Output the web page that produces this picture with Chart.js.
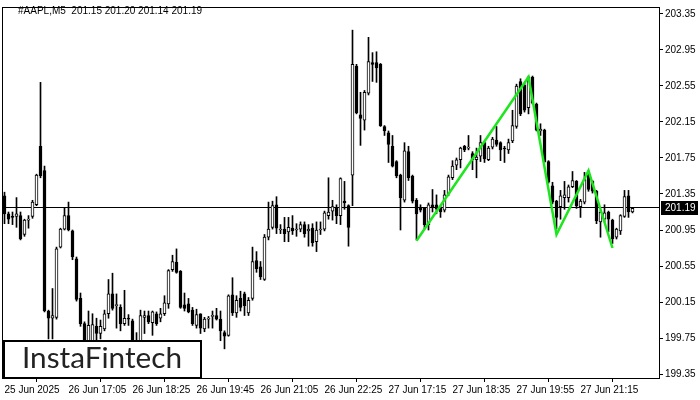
<!DOCTYPE html>
<html>
<head>
<meta charset="utf-8">
<script src="https://cdn.jsdelivr.net/npm/chart.js@4.4.1/dist/chart.umd.min.js"></script>
<style>
  body { margin: 0; background: #fff; }
  canvas { display: block; }
</style>
</head>
<body>
<canvas id="chart" width="700" height="400"></canvas>
<script>
// AAPL M5 candles (one value per bar)
const opens = [
  201.33, 201.13, 201.10, 201.10, 201.11, 200.90, 201.06, 201.10, 201.23, 201.88,
  201.61, 200.05, 199.97, 199.98, 200.76, 200.96, 201.11, 200.94, 200.63, 200.19,
  199.91, 199.72, 199.72, 199.88, 199.80, 199.85, 200.02, 200.24, 200.11, 200.09,
  199.91, 199.97, 199.94, 199.72, 199.68, 199.98, 200.00, 199.92, 200.02, 199.97,
  200.02, 200.13, 200.51, 200.59, 200.49, 200.12, 200.13, 200.06, 199.89, 200.02,
  199.85, 199.96, 199.99, 200.00, 199.96, 199.81, 199.78, 200.23, 200.03, 200.19,
  200.24, 200.03, 200.19, 200.61, 200.54, 200.40, 200.87, 200.98, 201.23, 200.95,
  200.96, 200.93, 200.97, 200.95, 200.96, 201.01, 200.94, 200.97, 200.82, 200.95,
  200.96, 201.11, 201.16, 201.19, 201.11, 201.27, 201.22, 201.56, 202.77, 202.23,
  202.17, 202.47, 202.81, 202.81, 202.79, 202.10, 202.03, 201.88, 201.71, 201.56,
  201.28, 201.82, 201.55, 201.28, 201.20, 201.19, 201.01, 201.23, 201.23, 201.20,
  201.17, 201.35, 201.53, 201.67, 201.73, 201.88, 201.86, 201.80, 201.73, 201.77,
  201.92, 201.73, 201.87, 201.95, 201.92, 201.86, 201.84, 201.94, 202.10, 202.60,
  202.56, 202.31, 202.65, 202.35, 202.05, 202.06, 201.71, 201.44, 201.27, 201.21,
  201.31, 201.31, 201.43, 201.49, 201.21, 201.26, 201.56, 201.49, 201.38, 201.04,
  201.07, 201.15, 201.06, 200.87, 200.94, 201.10, 201.33, 201.15
];
const highs = [
  201.37, 201.15, 201.15, 201.31, 201.15, 201.07, 201.11, 201.28, 201.57, 202.59,
  201.66, 200.06, 200.30, 200.76, 200.97, 201.20, 201.26, 200.95, 200.65, 200.25,
  199.93, 200.05, 200.02, 199.97, 199.95, 200.06, 200.40, 200.47, 200.24, 200.12,
  200.28, 200.01, 199.96, 199.81, 200.06, 200.05, 200.05, 200.05, 200.04, 200.08,
  200.22, 200.51, 200.67, 200.74, 200.50, 200.25, 200.19, 200.09, 200.07, 200.02,
  199.98, 199.99, 200.05, 200.08, 200.05, 199.83, 200.23, 200.42, 200.22, 200.27,
  200.26, 200.20, 200.76, 200.71, 200.60, 200.90, 201.26, 201.27, 201.32, 201.01,
  201.09, 201.09, 201.11, 201.02, 201.04, 201.04, 201.01, 201.02, 201.04, 201.04,
  201.16, 201.53, 201.28, 201.23, 201.53, 201.49, 201.23, 203.17, 202.79, 202.48,
  202.50, 203.09, 202.92, 202.93, 202.80, 202.11, 202.05, 202.00, 201.72, 201.57,
  201.92, 201.88, 201.56, 201.30, 201.23, 201.20, 201.25, 201.40, 201.34, 201.22,
  201.39, 201.56, 201.72, 201.75, 201.87, 201.89, 202.00, 201.82, 201.86, 202.00,
  201.93, 201.88, 201.98, 202.10, 201.93, 201.88, 201.96, 202.28, 202.57, 202.63,
  202.58, 202.66, 202.66, 202.36, 202.13, 202.07, 201.72, 201.48, 201.28, 201.39,
  201.49, 201.45, 201.60, 201.50, 201.29, 201.59, 201.61, 201.50, 201.39, 201.17,
  201.23, 201.16, 201.07, 200.97, 201.12, 201.39, 201.39, 201.20
];
const lows = [
  201.02, 201.02, 201.01, 200.98, 200.84, 200.88, 200.97, 201.08, 201.22, 201.53,
  200.04, 199.74, 199.74, 199.96, 200.75, 200.95, 200.94, 200.62, 200.16, 199.88,
  199.65, 199.66, 199.68, 199.72, 199.74, 199.83, 199.97, 200.06, 199.86, 199.83,
  199.89, 199.89, 199.66, 199.60, 199.64, 199.80, 199.91, 199.78, 199.89, 199.93,
  200.00, 200.08, 200.49, 200.47, 200.08, 200.05, 200.03, 199.89, 199.86, 199.80,
  199.82, 199.86, 199.86, 199.95, 199.72, 199.63, 199.77, 200.00, 199.98, 200.05,
  200.00, 200.00, 200.17, 200.48, 200.40, 200.39, 200.84, 200.96, 200.91, 200.91,
  200.82, 200.82, 200.90, 200.88, 200.93, 200.87, 200.77, 200.77, 200.71, 200.90,
  200.94, 201.07, 201.06, 201.02, 201.01, 201.18, 200.77, 201.22, 202.24, 201.89,
  202.06, 202.45, 202.60, 202.59, 202.10, 202.00, 201.70, 201.65, 201.53, 200.95,
  201.26, 201.50, 201.25, 200.84, 201.15, 200.96, 200.95, 201.15, 201.13, 201.09,
  201.15, 201.33, 201.51, 201.62, 201.64, 201.82, 201.84, 201.62, 201.53, 201.71,
  201.70, 201.72, 201.85, 201.88, 201.72, 201.70, 201.80, 201.92, 202.08, 202.22,
  202.26, 202.24, 202.35, 202.05, 202.00, 201.70, 201.47, 201.24, 200.96, 201.07,
  201.18, 201.26, 201.42, 201.19, 201.09, 201.24, 201.38, 201.36, 201.02, 200.87,
  201.04, 200.93, 200.80, 200.85, 200.90, 201.09, 201.09, 201.14
];
const closes = [
  201.13, 201.07, 201.09, 201.13, 200.85, 201.06, 201.07, 201.26, 201.56, 201.55,
  200.05, 199.97, 200.00, 200.74, 200.96, 201.11, 200.95, 200.65, 200.18, 199.91,
  199.70, 199.89, 199.90, 199.80, 199.88, 200.02, 200.24, 200.08, 200.12, 199.91,
  199.97, 199.96, 199.70, 199.66, 200.00, 200.00, 199.93, 200.04, 199.91, 200.02,
  200.14, 200.50, 200.60, 200.48, 200.09, 200.08, 200.04, 199.91, 200.01, 199.86,
  199.96, 199.97, 199.99, 199.96, 199.83, 199.77, 200.22, 200.03, 200.17, 200.09,
  200.11, 200.17, 200.60, 200.52, 200.43, 200.87, 200.96, 201.22, 200.97, 200.96,
  200.91, 200.98, 200.94, 200.95, 201.01, 200.91, 200.96, 200.81, 200.95, 200.96,
  201.14, 201.15, 201.21, 201.11, 201.52, 201.25, 200.98, 202.79, 202.25, 202.19,
  202.48, 202.82, 202.79, 202.75, 202.11, 202.05, 201.90, 201.66, 201.55, 201.31,
  201.83, 201.53, 201.27, 201.13, 201.17, 201.01, 201.23, 201.21, 201.18, 201.15,
  201.34, 201.54, 201.66, 201.73, 201.86, 201.84, 201.86, 201.73, 201.76, 201.92,
  201.74, 201.86, 201.96, 201.90, 201.84, 201.85, 201.92, 202.11, 202.55, 202.24,
  202.28, 202.65, 202.36, 202.06, 202.07, 201.71, 201.48, 201.26, 201.09, 201.33,
  201.34, 201.43, 201.50, 201.22, 201.27, 201.51, 201.40, 201.38, 201.05, 201.15,
  201.14, 201.07, 200.85, 200.96, 201.11, 201.32, 201.15, 201.19
];

// green pattern line (bar index, price)
const patternIdx = [103, 131, 138, 146, 152];
const patternVals = [200.83, 202.65, 200.90, 201.61, 200.75];

// axis labels
const tickLabels = ['25 Jun 2025', '26 Jun 17:05', '26 Jun 18:25', '26 Jun 19:45', '26 Jun 21:05',
                    '26 Jun 22:25', '27 Jun 17:15', '27 Jun 18:35', '27 Jun 19:55', '27 Jun 21:15'];
const tickEvery = 16;
const priceTicks = [199.35, 199.75, 200.15, 200.55, 200.95, 201.35, 201.75, 202.15, 202.55, 202.95, 203.35];

const symbol = '#AAPL,M5';
const font = { family: '"Liberation Sans", Arial, sans-serif', size: 10 };

// build datasets for the library
const wicks = highs.map((h, i) => ({ x: i, y: [lows[i], h] }));
const bodies = opens.map((o, i) => ({ x: i, y: [o, closes[i]] }));
const bodyColors = opens.map((o, i) => closes[i] >= o ? '#ffffff' : '#000000');
const pattern = patternIdx.map((idx, k) => ({ x: idx, y: patternVals[k] }));

const last = opens.length - 1;

// draws frame, bid line, price box, header and logo
const overlay = {
    id: 'overlay',
    beforeDatasetsDraw(chart) {
        const { ctx, chartArea, scales } = chart;
        const y = Math.round(scales.y.getPixelForValue(closes[last])) - 0.5;
        ctx.save();
        ctx.strokeStyle = '#000';
        ctx.lineWidth = 1;
        ctx.beginPath();
        ctx.moveTo(chartArea.left, y);
        ctx.lineTo(chartArea.right, y);
        ctx.stroke();
        ctx.restore();
    },
    afterDraw(chart) {
        const { ctx, chartArea, scales } = chart;
        ctx.save();
        ctx.strokeStyle = '#000';
        ctx.lineWidth = 1;
        ctx.strokeRect(chartArea.left - 0.5, chartArea.top - 0.5,
            chartArea.right - chartArea.left + 1, chartArea.bottom - chartArea.top + 1);

        // current price box
        const y = Math.round(scales.y.getPixelForValue(closes[last])) - 1;
        ctx.fillStyle = '#000';
        ctx.fillRect(chartArea.right + 2, y - 6, 37, 14);
        ctx.fillStyle = '#fff';
        ctx.font = '10px ' + font.family;
        ctx.textBaseline = 'middle';
        ctx.fillText(closes[last].toFixed(2), chartArea.right + 6, y + 1);

        // header
        ctx.fillStyle = '#000';
        ctx.fillText(symbol + '  ' + [opens[last], highs[last], lows[last], closes[last]]
            .map(v => v.toFixed(2)).join(' '), 18, 11);

        // logo
        ctx.fillStyle = '#fff';
        ctx.fillRect(3, 340, 199, 39);
        ctx.lineWidth = 2;
        ctx.strokeRect(4, 341, 197, 37);
        ctx.fillStyle = '#222';
        ctx.font = '400 28px Lato, "Open Sans", sans-serif';
        ctx.textBaseline = 'alphabetic';
        const w = ctx.measureText('InstaFintech').width;
        ctx.translate(22, 368);
        ctx.scale(160 / w, 1);
        ctx.fillText('InstaFintech', 0, 0);
        ctx.restore();
    }
};

const ctx = document.getElementById('chart').getContext('2d');
new Chart(ctx, {
    type: 'bar',
    data: {
        datasets: [
            {
                type: 'line',
                data: pattern,
                borderColor: '#1ee61e',
                borderWidth: 2.5,
                pointRadius: 0,
                tension: 0,
                order: 0
            },
            {
                data: bodies,
                backgroundColor: bodyColors,
                borderColor: '#000',
                borderWidth: 1,
                borderSkipped: false,
                barThickness: 3,
                minBarLength: 1,
                grouped: false,
                order: 1
            },
            {
                data: wicks,
                backgroundColor: '#000',
                borderWidth: 0,
                barThickness: 1,
                grouped: false,
                order: 2
            }
        ]
    },
    options: {
        responsive: false,
        animation: false,
        layout: { padding: { left: 3, top: 3, right: 0, bottom: 0 } },
        plugins: { legend: { display: false }, tooltip: { enabled: false } },
        scales: {
            x: {
                type: 'linear',
                min: -0.375,
                max: 163.625,
                offset: false,
                grid: { display: true, drawOnChartArea: false, drawTicks: true, tickLength: 4, color: '#000' },
                border: { display: true, color: '#000' },
                afterBuildTicks(scale) {
                    scale.ticks = tickLabels.map((_, k) => ({ value: k * tickEvery }));
                },
                afterFit(scale) { scale.height = 22; },
                ticks: {
                    align: 'start',
                    maxRotation: 0,
                    autoSkip: false,
                    color: '#000',
                    font: font,
                    padding: 2,
                    callback: v => tickLabels[Math.round(v / tickEvery)]
                }
            },
            y: {
                position: 'right',
                min: 199.306,
                max: 203.416,
                grid: { display: true, drawOnChartArea: false, drawTicks: true, tickLength: 4, color: '#000' },
                border: { display: true, color: '#000' },
                afterBuildTicks(scale) {
                    scale.ticks = priceTicks.map(v => ({ value: v }));
                },
                afterFit(scale) { scale.width = 41; },
                ticks: {
                    color: '#000',
                    font: font,
                    padding: 2,
                    callback: v => v.toFixed(2)
                }
            }
        }
    },
    plugins: [overlay]
});
</script>
</body>
</html>
